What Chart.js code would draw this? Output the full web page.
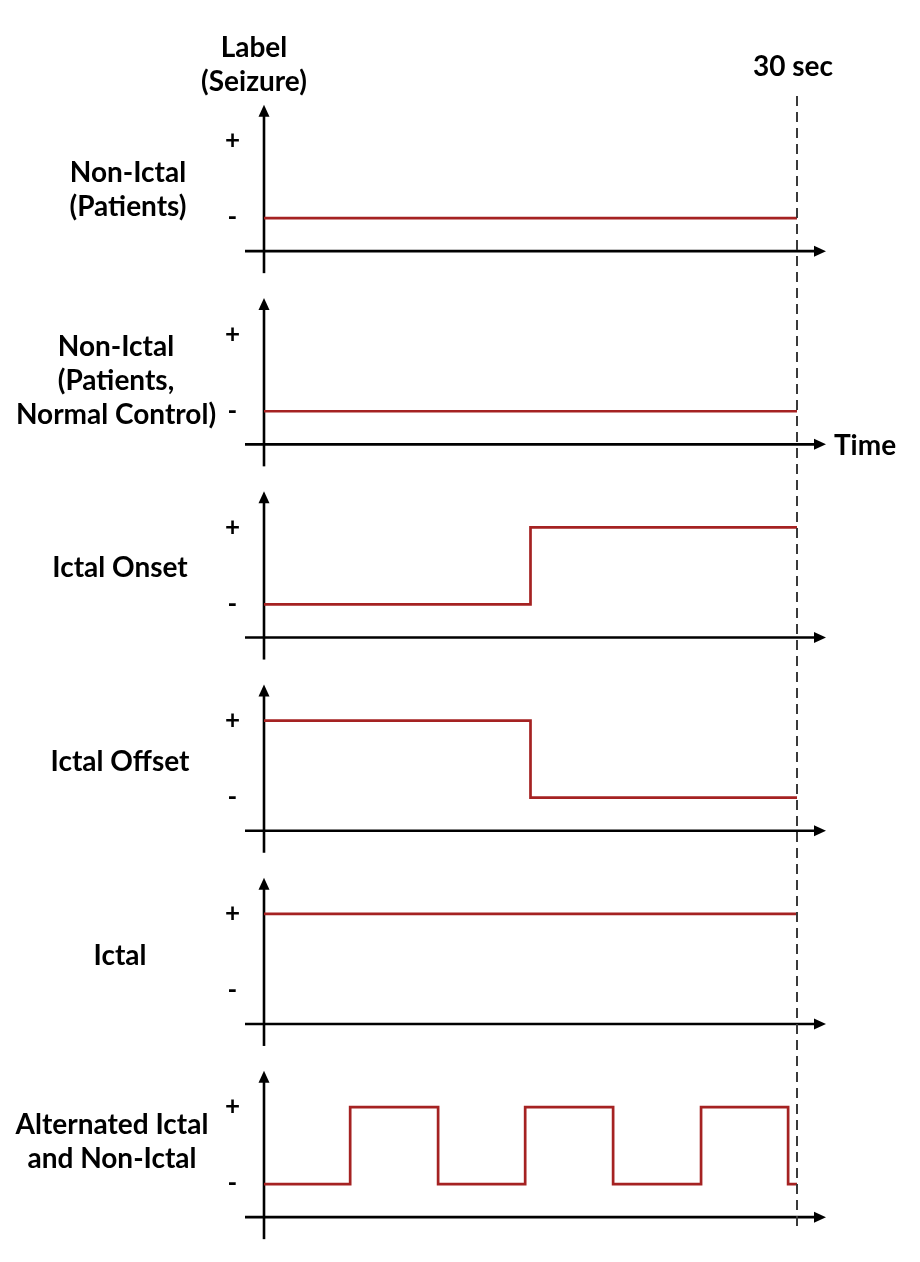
<!DOCTYPE html>
<html><head><meta charset="utf-8">
<script src="https://cdn.jsdelivr.net/npm/chart.js@4"></script>
<style>
html,body{margin:0;padding:0;background:#fff;}
#wrap{position:relative;width:920px;height:1262px;overflow:hidden;}
canvas{position:absolute;left:0;top:0;}
.lbl{position:absolute;font-family:Lato,'Open Sans',sans-serif;font-weight:700;font-size:28px;color:#000;text-align:center;line-height:34px;white-space:nowrap;transform:translate(-50%,-50%);}
</style></head>
<body><div id="wrap"><canvas id="c" width="920" height="1262"></canvas></div>
<script>
// ---- data ----
const panelLabels = [
  ["Non-Ictal", "(Patients)"],
  ["Non-Ictal", "(Patients,", "Normal Control)"],
  ["Ictal Onset"],
  ["Ictal Offset"],
  ["Ictal"],
  ["Alternated Ictal", "and Non-Ictal"]
];
const tickLabels = ["-", "+"];           // label 0 = non-seizure, 1 = seizure
const epochEnd = 30;                      // seconds
const epochLabel = "30 sec";
const timeLabel = "Time";
const yTitle = ["Label", "(Seizure)"];

const nonIctalTimes   = [0, 30];
const nonIctalValues  = [0, 0];
const nonIctalNCTimes = [0, 30];
const nonIctalNCValues= [0, 0];
const onsetTimes      = [0, 15, 30];
const onsetValues     = [0, 1, 1];
const offsetTimes     = [0, 15, 30];
const offsetValues    = [1, 0, 0];
const ictalTimes      = [0, 30];
const ictalValues     = [1, 1];
const altTimes        = [0, 4.85, 9.8, 14.7, 19.65, 24.6, 29.5, 30];
const altValues       = [0, 1, 0, 1, 0, 1, 0, 0];

const seriesTimes  = [nonIctalTimes, nonIctalNCTimes, onsetTimes, offsetTimes, ictalTimes, altTimes];
const seriesValues = [nonIctalValues, nonIctalNCValues, onsetValues, offsetValues, ictalValues, altValues];

// ---- layout constants (styling) ----
const AXIS_LEVEL = -0.43;   // where each panel's time axis sits
const ARROW_TOP = 1.47;     // tip of each panel's label axis
const Y_MIN = -0.75, Y_MAX = 1.759;
const RED = '#A52222';

const panelIds = panelLabels.map((_, i) => 'y' + i);

const scales = {
  x: { type: 'linear', min: 0, max: epochEnd, display: false }
};
panelIds.forEach((id, i) => {
  scales[id] = {
    type: 'linear', position: 'left', stack: 'panels', stackWeight: 1,
    weight: panelIds.length - i,
    min: Y_MIN, max: Y_MAX,
    grid: { display: false, drawTicks: false },
    border: { display: false },
    afterBuildTicks: s => { s.ticks = [{ value: 0 }, { value: 1 }]; },
    afterFit: s => { s.width = 40; s.paddingTop = 0; s.paddingBottom = 0; },
    ticks: {
      autoSkip: false, padding: 24, crossAlign: 'center', color: '#000',
      font: { family: 'Lato', weight: 'bold', size: 26 },
      callback: v => (v === 1 ? tickLabels[1] : (v === 0 ? tickLabels[0] : ''))
    }
  };
});

const datasets = panelIds.map((id, i) => ({
  yAxisID: id,
  data: seriesTimes[i].map((t, j) => ({ x: t, y: seriesValues[i][j] })),
  stepped: true,
  borderColor: RED,
  borderWidth: 2.7,
  borderJoinStyle: 'miter',
  pointRadius: 0,
  fill: false,
  clip: false
}));

function arrowHead(ctx, x, y, dir, len, half) {
  ctx.beginPath();
  if (dir === 'right') { ctx.moveTo(x, y); ctx.lineTo(x - len, y - half); ctx.lineTo(x - len, y + half); }
  else { ctx.moveTo(x, y); ctx.lineTo(x - half, y + len); ctx.lineTo(x + half, y + len); }
  ctx.closePath(); ctx.fill();
}

const axesPlugin = {
  id: 'arrowAxes',
  beforeDatasetsDraw(chart) {
    const ctx = chart.ctx, xs = chart.scales.x;
    const x0 = xs.getPixelForValue(0), x30 = xs.getPixelForValue(epochEnd);
    ctx.save();
    ctx.strokeStyle = '#000'; ctx.fillStyle = '#000'; ctx.lineWidth = 2.6;
    panelIds.forEach(id => {
      const ys = chart.scales[id];
      const yA = ys.getPixelForValue(AXIS_LEVEL);
      const xEnd = x30 + 29;
      ctx.beginPath(); ctx.moveTo(x0 - 19, yA); ctx.lineTo(xEnd - 8, yA); ctx.stroke();
      arrowHead(ctx, xEnd, yA, 'right', 12, 5.5);
      const yTop = ys.getPixelForValue(ARROW_TOP);
      ctx.beginPath(); ctx.moveTo(x0, yA + 22); ctx.lineTo(x0, yTop + 8); ctx.stroke();
      arrowHead(ctx, x0, yTop, 'up', 12, 5.5);
    });
    ctx.restore();
  },
  afterDraw(chart) {
    const ctx = chart.ctx, xs = chart.scales.x;
    const x30 = xs.getPixelForValue(epochEnd);
    ctx.save();
    ctx.strokeStyle = '#3a3a3a'; ctx.lineWidth = 2; ctx.setLineDash([10, 6]);
    ctx.beginPath(); ctx.moveTo(x30, 96); ctx.lineTo(x30, 1228); ctx.stroke();
    ctx.restore();
  }
};

new Chart(document.getElementById('c'), {
  type: 'line',
  data: { datasets },
  options: {
    responsive: false, animation: false, devicePixelRatio: 1,
    layout: { padding: { left: 224, right: 123, top: 82.6, bottom: 20.2 } },
    plugins: { legend: { display: false }, tooltip: { enabled: false } },
    scales
  },
  plugins: [axesPlugin]
});

// ---- text labels ----
const wrap = document.getElementById('wrap');
function addLabel(lines, cx, cy) {
  const d = document.createElement('div');
  d.className = 'lbl';
  d.innerHTML = lines.map(s => s.replace(/&/g, '&amp;')).join('<br>');
  d.style.left = cx + 'px'; d.style.top = cy + 'px';
  wrap.appendChild(d);
}
const labelCenters = [[128, 188], [116, 379], [120, 566], [120, 760], [120, 954], [112, 1140]];
panelLabels.forEach((l, i) => addLabel(l, labelCenters[i][0], labelCenters[i][1]));
addLabel(yTitle, 254, 63);
addLabel([epochLabel], 793, 65);
addLabel([timeLabel], 865, 444);
</script>
</body></html>
